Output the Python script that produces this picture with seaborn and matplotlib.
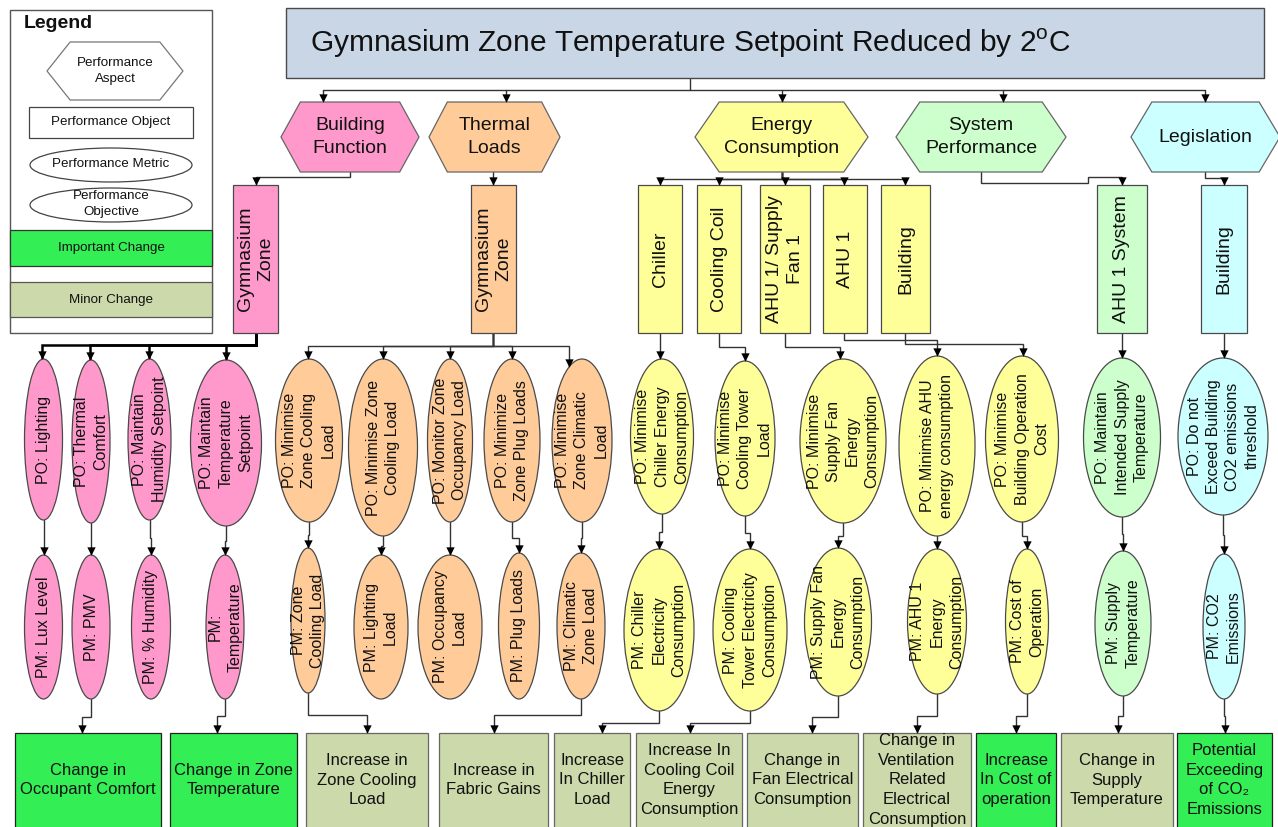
import numpy as np
import matplotlib
matplotlib.use("Agg")
import matplotlib.pyplot as plt
import seaborn as sns
import pandas as pd
from matplotlib.patches import Rectangle, Ellipse, Polygon

sns.set_theme(style="white")
plt.rcParams['font.family'] = ['Liberation Sans', 'DejaVu Sans']
plt.rcParams['mathtext.fontset'] = 'custom'
plt.rcParams['mathtext.rm'] = 'Liberation Sans'

# ---------------- content ----------------
title = "Gymnasium Zone Temperature Setpoint Reduced by 2$^{\\mathregular{o}}$C"

aspects = ["Building\nFunction", "Thermal\nLoads", "Energy\nConsumption",
           "System\nPerformance", "Legislation"]

objects = ["Gymnasium\nZone", "Gymnasium\nZone", "Chiller", "Cooling Coil",
           "AHU 1/ Supply\nFan 1", "AHU 1", "Building", "AHU 1 System", "Building"]
object_aspect = [0, 1, 2, 2, 2, 2, 2, 3, 4]

objectives = ["PO: Lighting", "PO: Thermal\nComfort", "PO: Maintain\nHumidity Setpoint",
              "PO: Maintain\nTemperature\nSetpoint",
              "PO: Minimise\nZone Cooling\nLoad", "PO: Minimise Zone\nCooling Load",
              "PO: Monitor Zone\nOccupancy Load", "PO: Minimize\nZone Plug Loads",
              "PO: Minimise\nZone Climatic\nLoad",
              "PO: Minimise\nChiller Energy\nConsumption", "PO: Minimise\nCooling Tower\nLoad",
              "PO: Minimise\nSupply Fan\nEnergy\nConsumption",
              "PO: Minimise AHU\nenergy consumption",
              "PO: Minimise\nBuilding Operation\nCost",
              "PO: Maintain\nIntended Supply\nTemperature",
              "PO: Do not\nExceed Building\nCO2 emissions\nthreshold"]
objective_object = [0, 0, 0, 0, 1, 1, 1, 1, 1, 2, 3, 4, 5, 6, 7, 8]

metrics = ["PM: Lux Level", "PM: PMV", "PM: % Humidity", "PM:\nTemperature",
           "PM: Zone\nCooling Load", "PM: Lighting\nLoad", "PM: Occupancy\nLoad",
           "PM: Plug Loads", "PM: Climatic\nZone Load",
           "PM: Chiller\nElectricity\nConsumption",
           "PM: Cooling\nTower Electricity\nConsumption",
           "PM: Supply Fan\nEnergy\nConsumption", "PM: AHU 1\nEnergy\nConsumption",
           "PM: Cost of\nOperation", "PM: Supply\nTemperature", "PM: CO2\nEmissions"]

changes = ["Change in\nOccupant Comfort", "Change in Zone\nTemperature",
           "Increase in\nZone Cooling\nLoad", "Increase in\nFabric Gains",
           "Increase\nIn Chiller\nLoad", "Increase In\nCooling Coil\nEnergy\nConsumption",
           "Change in\nFan Electrical\nConsumption",
           "Change in\nVentilation\nRelated\nElectrical\nConsumption",
           "Increase\nIn Cost of\noperation", "Change in\nSupply\nTemperature",
           "Potential\nExceeding\nof CO\u2082\nEmissions"]
change_important = [True, True, False, False, False, False, False, False, True, False, True]
change_metric = [1, 3, 4, 8, 9, 10, 11, 12, 13, 14, 15]

legend_items = ["Performance\nAspect", "Performance Object", "Performance Metric",
                "Performance\nObjective", "Important Change", "Minor Change"]

# ---------------- styles ----------------
aspect_colors = ["#ff99cc", "#ffcc99", "#ffff99", "#ccffcc", "#ccffff"]
IMPORTANT = "#33ee55"
MINOR = "#ccd9aa"
TITLE_FC = "#c8d6e6"
EDGE = "#4a4a4a"
LINE = "#333333"
LSP = 1.42

# ---------------- layout (pixels) ----------------
hex_x0 = [281, 429, 695, 896, 1131]
hex_x1 = [419, 560, 868, 1066, 1280]
hex_in_x = [323, 506, 782, 1003, 1205]
hex_out_x = [350, 493, 782, 981, 1205]
HEX_Y0, HEX_Y1 = 102, 172

obj_x0 = [233, 471, 638, 697, 760, 823, 881, 1097, 1201]
obj_x1 = [278, 516, 682, 741, 810, 867, 930, 1147, 1247]
obj_in_x = [256, 493, 660, 719, 785, 844, 905, 1122, 1224]
obj_bus_y = [177, 178, 179, 179, 179, 179, 179, 180, 178]
obj_out_x = [256, 493, 660, 719, 785, 844, 905, 1122, 1224]
OBJ_Y0, OBJ_Y1 = 185, 333

po_cx = [43.5, 91, 149.5, 226, 309, 383, 450, 512, 582, 662, 745, 843, 937, 1022, 1122, 1223]
po_w = [38, 38, 43, 71, 67, 69, 45, 56, 60, 63, 60, 86, 76, 73, 77, 90]
po_y0 = [359, 360, 359, 360, 359, 359, 359, 359, 359, 359, 361, 359, 356, 356, 358, 358]
po_y1 = [520, 523, 520, 526, 522, 536, 522, 522, 522, 514, 516, 523, 536, 522, 517, 515]
po_in_x = [42, 90, 149, 226, 308, 383, 450, 512, 569, 660, 745, 840, 937, 1023, 1122, 1224]
po_bus_y = [345, 345, 345, 345, 346, 346, 346, 346, 346, 345, 347, 347, 340, 344, 345, 345]

pm_cx = [43.5, 91, 151, 225, 308, 381, 450, 519, 581, 659, 750, 838, 937, 1027, 1123, 1224]
pm_w = [38, 38, 39, 38, 34, 54, 64, 41, 48, 70, 74, 67, 59, 43, 56, 42]
pm_y0 = [555, 555, 555, 555, 548, 555, 555, 553, 553, 549, 549, 548, 549, 549, 551, 554]
pm_y1 = [699, 699, 699, 699, 693, 699, 699, 699, 699, 711, 711, 696, 694, 694, 696, 699]

ch_x0 = [15, 170, 306, 439, 554, 636, 747, 863, 976, 1061, 1177]
ch_x1 = [161, 297, 428, 548, 630, 742, 858, 971, 1056, 1173, 1272]
ch_in_x = [82, 217, 367, 494, 602, 690, 812, 917, 1016, 1118, 1225]
ch_bus_y = [717, 716, 715, 715, 723, 723, 717, 716, 716, 716, 716]
CH_Y0, CH_Y1 = 733, 834

# ---------------- drawing ----------------
fig = plt.figure(figsize=(12.78, 8.27), dpi=100)
ax = fig.add_axes([0, 0, 1, 1])
ax.set_xlim(0, 1278)
ax.set_ylim(827, 0)
ax.axis("off")

tips = []


def route(pts, arrow=True, lw=1.0, color=LINE):
    xs = [p[0] for p in pts]
    ys = [p[1] for p in pts]
    ax.plot(xs, ys, color=color, lw=lw, solid_joinstyle="miter", zorder=1)
    if arrow:
        tips.append(pts[-1])


def hexagon(x0, x1, y0, y1, fc, frac=0.14, ec="#666666"):
    i = (x1 - x0) * frac
    ym = (y0 + y1) / 2
    pts = [(x0, ym), (x0 + i, y0), (x1 - i, y0), (x1, ym), (x1 - i, y1), (x0 + i, y1)]
    ax.add_patch(Polygon(pts, closed=True, fc=fc, ec=ec, lw=0.9, zorder=2))


def ell_top(cx, w, y0, y1, x):
    a = w / 2
    b = (y1 - y0) / 2
    cy = (y0 + y1) / 2
    d = (x - cx) / a
    return cy - b * np.sqrt(max(0.0, 1 - d * d))


def label(x, y, s, size, rot=0, weight="normal", ha="center", lsp=LSP):
    ax.text(x, y, s, fontsize=size, rotation=rot, ha=ha, va="center",
            multialignment="center", weight=weight, color="#111111",
            linespacing=lsp, zorder=4)


# title
ax.add_patch(Rectangle((286, 8), 978, 70, fc=TITLE_FC, ec=EDGE, lw=1.0, zorder=2))
label(690, 43, title, 21.5)

# legend
ax.add_patch(Rectangle((10, 10), 202, 323, fc="white", ec="#555555", lw=1.0, zorder=2))
label(24, 23, "Legend", 14, weight="bold", ha="left")
hexagon(47, 183, 42, 100, "white", frac=0.17, ec="#777777")
label(115, 71, legend_items[0], 9.6)
ax.add_patch(Rectangle((29, 107), 164, 31, fc="white", ec="#444444", lw=0.9, zorder=2))
label(111, 122.5, legend_items[1], 9.6)
ax.add_patch(Ellipse((111, 165), 162, 34, fc="white", ec="#444444", lw=0.9, zorder=2))
label(111, 164, legend_items[2], 9.6)
ax.add_patch(Ellipse((111, 205), 162, 34, fc="white", ec="#444444", lw=0.9, zorder=2))
label(111, 204, legend_items[3], 9.6)
ax.add_patch(Rectangle((10, 230), 202, 36, fc=IMPORTANT, ec="#333333", lw=0.9, zorder=2))
label(111, 248, legend_items[4], 9.6)
ax.add_patch(Rectangle((10, 282), 202, 35, fc=MINOR, ec="#555555", lw=0.9, zorder=2))
label(111, 299.5, legend_items[5], 9.6)

# title -> aspects
route([(690, 78), (690, 90)], arrow=False)
route([(min(hex_in_x), 90), (max(hex_in_x), 90)], arrow=False)
for x in hex_in_x:
    route([(x, 90), (x, HEX_Y0)])

# aspects
for k, s in enumerate(aspects):
    hexagon(hex_x0[k], hex_x1[k], HEX_Y0, HEX_Y1, aspect_colors[k])
    cx = (hex_x0[k] + min(hex_x1[k], 1278)) / 2 if k < 4 else 1205
    label(cx, (HEX_Y0 + HEX_Y1) / 2, s, 14)

# aspects -> objects
for j, a in enumerate(object_aspect):
    sx = hex_out_x[a]
    by = obj_bus_y[j]
    if a == 3:
        route([(sx, HEX_Y1), (sx, 183), (1088, 183), (1088, 177),
               (obj_in_x[j], 177), (obj_in_x[j], OBJ_Y0)])
    else:
        route([(sx, HEX_Y1), (sx, by), (obj_in_x[j], by), (obj_in_x[j], OBJ_Y0)])

# objects
for j, s in enumerate(objects):
    fc = aspect_colors[object_aspect[j]]
    ax.add_patch(Rectangle((obj_x0[j], OBJ_Y0), obj_x1[j] - obj_x0[j], OBJ_Y1 - OBJ_Y0,
                           fc=fc, ec=EDGE, lw=0.9, zorder=2))
    label((obj_x0[j] + obj_x1[j]) / 2, (OBJ_Y0 + OBJ_Y1) / 2, s, 14, rot=90, lsp=1.3)

# objects -> objectives
for i, o in enumerate(objective_object):
    sx = obj_out_x[o]
    tx = po_in_x[i]
    ty = ell_top(po_cx[i], po_w[i], po_y0[i], po_y1[i], tx)
    lw = 1.8 if o == 0 else 1.0
    col = "#000000" if o == 0 else LINE
    route([(sx, OBJ_Y1), (sx, po_bus_y[i]), (tx, po_bus_y[i]), (tx, ty)], lw=lw, color=col)

# objectives
for i, s in enumerate(objectives):
    fc = aspect_colors[object_aspect[objective_object[i]]]
    ax.add_patch(Ellipse((po_cx[i], (po_y0[i] + po_y1[i]) / 2), po_w[i], po_y1[i] - po_y0[i],
                         fc=fc, ec=EDGE, lw=0.9, zorder=2))
    label(po_cx[i], (po_y0[i] + po_y1[i]) / 2, s, 11.5, rot=90, lsp=1.36)

# objectives -> metrics
for i in range(len(metrics)):
    my = (po_y1[i] + pm_y0[i]) / 2
    sx = po_cx[i]
    route([(sx, po_y1[i]), (sx, my), (pm_cx[i], my), (pm_cx[i], pm_y0[i])])

# metrics
for i, s in enumerate(metrics):
    fc = aspect_colors[object_aspect[objective_object[i]]]
    ax.add_patch(Ellipse((pm_cx[i], (pm_y0[i] + pm_y1[i]) / 2), pm_w[i], pm_y1[i] - pm_y0[i],
                         fc=fc, ec=EDGE, lw=0.9, zorder=2))
    label(pm_cx[i], (pm_y0[i] + pm_y1[i]) / 2, s, 11.5, rot=90, lsp=1.36)

# metrics -> changes
for c, m in enumerate(change_metric):
    sx = pm_cx[m]
    by = ch_bus_y[c]
    route([(sx, pm_y1[m]), (sx, by), (ch_in_x[c], by), (ch_in_x[c], CH_Y0)])

# changes
for c, s in enumerate(changes):
    fc = IMPORTANT if change_important[c] else MINOR
    ec = "#222222" if change_important[c] else "#666666"
    ax.add_patch(Rectangle((ch_x0[c], CH_Y0), ch_x1[c] - ch_x0[c], CH_Y1 - CH_Y0,
                           fc=fc, ec=ec, lw=0.9, zorder=2))
    label((ch_x0[c] + ch_x1[c]) / 2, 780, s, 12, lsp=1.4)

# arrowheads drawn with seaborn
tip_df = pd.DataFrame({"x": [t[0] for t in tips], "y": [t[1] - 4 for t in tips]})
sns.scatterplot(data=tip_df, x="x", y="y", marker="v", s=36, color="black",
                linewidth=0, ax=ax, zorder=5, legend=False)
ax.set_xlim(0, 1278)
ax.set_ylim(827, 0)
ax.axis("off")

fig.savefig("out.png", dpi=100)
